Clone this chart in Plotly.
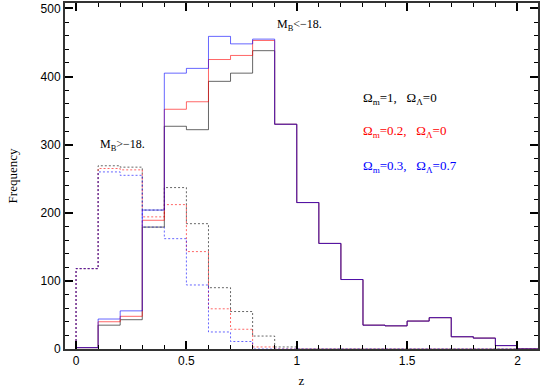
import plotly.graph_objects as go

# Bin edges in redshift (bins of width 0.1)
z_edges = [0.0, 0.1, 0.2, 0.3, 0.4, 0.5, 0.6, 0.7, 0.8, 0.9, 1.0,
           1.1, 1.2, 1.3, 1.4, 1.5, 1.6, 1.7, 1.8, 1.9, 2.0, 2.1]

# M_B < -18 (solid)
bright_om1 = [2, 35, 43, 179, 327, 322, 393, 405, 438, 330, 215,
              155, 102, 35, 34, 41, 46, 18, 16, 5, 0]
bright_om02 = [2, 40, 48, 189, 352, 363, 425, 431, 453, 330, 215,
               155, 102, 35, 34, 41, 46, 18, 16, 5, 0]
bright_om03 = [2, 44, 56, 204, 405, 412, 459, 448, 455, 330, 215,
               155, 102, 35, 34, 41, 46, 18, 16, 5, 0]

# M_B > -18 (dotted)
faint_om1 = [118, 269, 267, 204, 237, 184, 90, 55, 19, 3, 0,
             0, 0, 0, 0, 0, 0, 0, 0, 0, 0]
faint_om02 = [118, 265, 263, 194, 212, 143, 59, 29, 3, 0, 0,
              0, 0, 0, 0, 0, 0, 0, 0, 0, 0]
faint_om03 = [118, 260, 255, 179, 162, 94, 25, 11, 0, 0, 0,
              0, 0, 0, 0, 0, 0, 0, 0, 0, 0]

farben = ['rgba(0,0,0,0.6)', 'rgba(255,0,0,0.6)', 'rgba(0,0,255,0.6)']


def stufen(werte):
    # Treppenkurve: bei 0 beginnen, letzten Wert wiederholen
    return [0] + werte + [werte[-1]]


fig = go.Figure()

x_stufen = [z_edges[0]] + z_edges
for werte, farbe in zip([faint_om1, faint_om02, faint_om03], farben):
    fig.add_trace(go.Scatter(x=x_stufen, y=stufen(werte), mode='lines',
                             line=dict(color=farbe, width=1, shape='hv', dash='2px,2px'),
                             showlegend=False, hoverinfo='skip'))
for werte, farbe in zip([bright_om1, bright_om02, bright_om03], farben):
    fig.add_trace(go.Scatter(x=x_stufen, y=stufen(werte), mode='lines',
                             line=dict(color=farbe, width=1, shape='hv'),
                             showlegend=False, hoverinfo='skip'))

serif = 'Liberation Serif'
sp = '&nbsp;&nbsp;&nbsp;'
fig.add_annotation(x=0.9, y=475, text='M<sub>B</sub><−18.', showarrow=False,
                   xanchor='left', font=dict(family=serif, size=12, color='black'))
fig.add_annotation(x=0.1, y=299, text='M<sub>B</sub>>−18.', showarrow=False,
                   xanchor='left', font=dict(family=serif, size=12, color='black'))
fig.add_annotation(x=1.29, y=368, text='Ω<sub>m</sub>=1,' + sp + 'Ω<sub>Λ</sub>=0', showarrow=False,
                   xanchor='left', font=dict(family=serif, size=13, color='black'))
fig.add_annotation(x=1.29, y=320, text='Ω<sub>m</sub>=0.2,' + sp + 'Ω<sub>Λ</sub>=0', showarrow=False,
                   xanchor='left', font=dict(family=serif, size=13, color='red'))
fig.add_annotation(x=1.29, y=268, text='Ω<sub>m</sub>=0.3,' + sp + 'Ω<sub>Λ</sub>=0.7', showarrow=False,
                   xanchor='left', font=dict(family=serif, size=13, color='blue'))

fig.update_layout(
    width=540, height=388,
    margin=dict(t=3, l=65, r=2, b=39),
    plot_bgcolor='white', paper_bgcolor='white',
    xaxis=dict(
        range=[-0.05, 2.093], dtick=0.5, tick0=0, automargin=False,
        showgrid=False, zeroline=False, showline=True, linecolor='#333', linewidth=2,
        mirror='allticks', ticks='inside', tickcolor='black', tickwidth=1.5, ticklen=8,
        minor=dict(dtick=0.1, ticklen=4, ticks='inside', tickcolor='black', tickwidth=1),
        tickfont=dict(family='Liberation Sans', size=12, color='black'),
        title=dict(text='z', font=dict(family=serif, size=13, color='black'), standoff=8),
    ),
    yaxis=dict(
        range=[0, 508], dtick=100, tick0=0, automargin=False,
        showgrid=False, zeroline=False, showline=True, linecolor='#333', linewidth=2,
        mirror='allticks', ticks='inside', tickcolor='black', tickwidth=1.5, ticklen=8,
        minor=dict(dtick=20, ticklen=4, ticks='inside', tickcolor='black', tickwidth=1),
        tickfont=dict(family='Liberation Sans', size=12, color='black'),
        title=dict(text='Frequency', font=dict(family=serif, size=13, color='black'), standoff=20),
    ),
)

# Seitenrand des Browsers entfernen
fig.write_html("out.html", config={'displayModeBar': False},
               post_script="document.body.style.margin='0px';")
